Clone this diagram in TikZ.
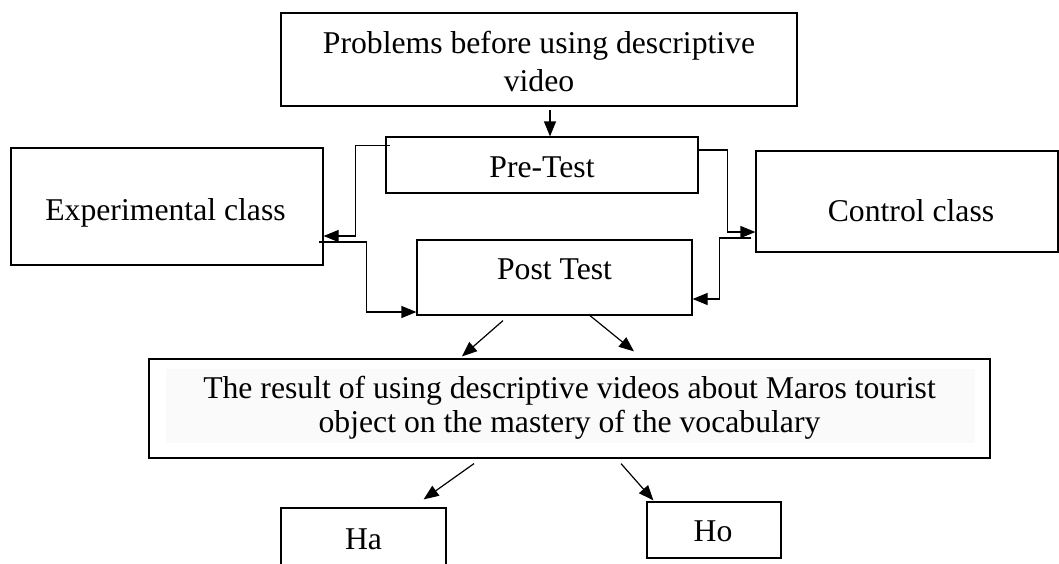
\documentclass[tikz,border=0pt]{standalone}
\usepackage{fontspec}
\setmainfont{Liberation Serif}
\usetikzlibrary{arrows.meta,calc}
\begin{document}
\begin{tikzpicture}[x=1pt,y=-1pt,
  box/.style={draw=black, line width=1.2pt, inner sep=0pt, rectangle},
  lbl/.style={inner sep=0pt, anchor=base, font=\fontsize{31.7}{38}\selectfont},
  arr/.style={line width=1.2pt, -{Triangle[length=15pt,width=12pt]}}]
\useasboundingbox (0,0) rectangle (1059,563);
\clip (0,0) rectangle (1059,563);

% frames
\node[box, minimum width=516pt, minimum height=93pt]  (prob) at (539,59.5) {};
\node[box, minimum width=312pt, minimum height=56pt]  (pre)  at (542,165) {};
\node[box, minimum width=312pt, minimum height=117pt] (exp)  at (167,206.5) {};
\node[box, minimum width=302pt, minimum height=101pt] (ctl)  at (907,201.5) {};
\node[box, minimum width=275pt, minimum height=75pt]  (post) at (554.5,277.5) {};
\fill[black!2] (166,369) rectangle (975,443);
\node[box, minimum width=841pt, minimum height=99pt]  (res)  at (569.5,408.5) {};
\node[box, minimum width=165pt, minimum height=70pt]  (ha)   at (363.5,543) {};
\node[box, minimum width=134pt, minimum height=56pt]  (ho)   at (714,530) {};

% texts
\node[lbl, font=\fontsize{31.7}{38.5}\selectfont] (prob-t) at (539,53)
  {\begin{tabular}[t]{@{}c@{}}Problems before using descriptive\\video\end{tabular}};
\node[lbl] (pre-t)  at (542,177.5) {Pre-Test};
\node[lbl] (exp-t)  at (165.5,220.5) {Experimental class};
\node[lbl] (ctl-t)  at (911,221.5) {Control class};
\node[lbl] (post-t) at (554.5,279.5) {Post Test};
\node[lbl, font=\fontsize{31.7}{34}\selectfont] (res-t) at (569.5,398)
  {\begin{tabular}[t]{@{}c@{}}The result of using descriptive videos about Maros tourist\\object on the mastery of the vocabulary\end{tabular}};
\node[lbl] (ha-t) at (363.5,549) {Ha};
\node[lbl] (ho-t) at (713,541) {Ho};

% connectors
\coordinate (a1) at (550,110);
\draw[arr] (a1) -- (a1 |- pre.north);
\draw[arr] ($(pre.north west)+(5,9)$) -- ++(-35,0) |- ($(exp.east)+(0,29.5)$);
\draw[arr] ($(exp.east)+(-5,35.5)$) -- ++(48,0) |- ($(post.west)+(0,34.5)$);
\draw[arr] ($(pre.east)+(0,-15)$) -- ++(29,0) |- ($(ctl.west)+(0,30.5)$);
\draw[arr] ($(ctl.west)+(-4,36.5)$) -- ++(-32,0) |- ($(post.east)+(0,21.5)$);
\draw[arr] ($(post.south)+(-51.5,5)$) -- ($(res.north)+(-107.5,-2)$);
\draw[arr] ($(post.south)+(35.5,0)$) -- ($(res.north)+(64.5,-7)$);
\draw[arr] ($(res.south)+(-95.5,5)$) -- ($(ha.north east)+(-23,-8)$);
\draw[arr] ($(res.south)+(51.5,5)$) -- ($(ho.north west)+(7,-1)$);
\end{tikzpicture}
\end{document}
